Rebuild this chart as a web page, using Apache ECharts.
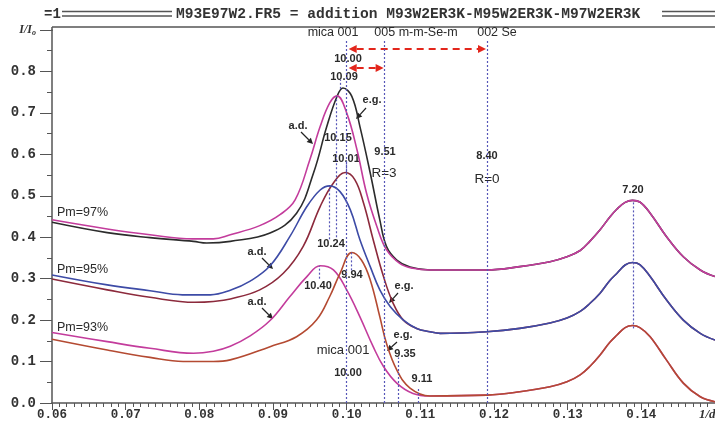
<!DOCTYPE html>
<html><head><meta charset="utf-8">
<script src="https://cdn.jsdelivr.net/npm/echarts@6/dist/echarts.min.js"></script>
<style>html,body{margin:0;padding:0;background:#fff}#c{width:715px;height:424px}</style>
</head><body><div id="c"></div><script>
// x = 1/d (Å^-1), y = I/I0
const xTickValues = [0.06,0.07,0.08,0.09,0.10,0.11,0.12,0.13,0.14];
const yTickValues = [0.0,0.1,0.2,0.3,0.4,0.5,0.6,0.7,0.8];

// Pm = 97 %
const ad97 = [[0.0600,0.442],[0.0675,0.420],[0.0733,0.406],[0.0791,0.396],[0.0819,0.396],[0.0842,0.406],[0.0882,0.428],[0.0910,0.455],[0.0930,0.490],[0.0950,0.587],[0.0964,0.667],[0.0977,0.724],[0.0987,0.741],[0.1000,0.700],[0.1014,0.611],[0.1027,0.506],[0.1041,0.426],[0.1054,0.370],[0.1072,0.337],[0.1090,0.325],[0.1113,0.321]];
const eg97 = [[0.0600,0.436],[0.0675,0.411],[0.0733,0.399],[0.0792,0.390],[0.0810,0.386],[0.0842,0.390],[0.0896,0.410],[0.0932,0.458],[0.0955,0.555],[0.0973,0.667],[0.0987,0.740],[0.0995,0.760],[0.1007,0.740],[0.1018,0.667],[0.1032,0.555],[0.1045,0.442],[0.1054,0.378],[0.1068,0.345],[0.1086,0.328],[0.1113,0.321]];
const tail97 = [[0.1190,0.321],[0.1235,0.329],[0.1276,0.341],[0.1299,0.353],[0.1317,0.368],[0.1330,0.390],[0.1344,0.418],[0.1357,0.448],[0.1367,0.468],[0.1378,0.484],[0.1388,0.489],[0.1398,0.485],[0.1412,0.458],[0.1434,0.402],[0.1457,0.353],[0.1480,0.321],[0.1500,0.305]];

// Pm = 95 %
const ad95 = [[0.0600,0.309],[0.0675,0.285],[0.0733,0.271],[0.0777,0.261],[0.0815,0.261],[0.0842,0.272],[0.0869,0.294],[0.0896,0.331],[0.0923,0.402],[0.0946,0.474],[0.0964,0.514],[0.0977,0.524],[0.0991,0.510],[0.1005,0.466],[0.1018,0.394],[0.1032,0.329],[0.1045,0.273],[0.1059,0.233],[0.1077,0.200],[0.1095,0.180],[0.1113,0.172],[0.1127,0.168]];
const eg95 = [[0.0600,0.299],[0.0675,0.273],[0.0733,0.255],[0.0794,0.243],[0.0819,0.245],[0.0842,0.251],[0.0882,0.273],[0.0914,0.313],[0.0941,0.378],[0.0964,0.474],[0.0982,0.531],[0.0998,0.556],[0.1011,0.539],[0.1023,0.482],[0.1036,0.394],[0.1050,0.305],[0.1063,0.241],[0.1077,0.200],[0.1095,0.180],[0.1113,0.172],[0.1127,0.168]];
const tail95 = [[0.1190,0.172],[0.1235,0.180],[0.1276,0.193],[0.1299,0.205],[0.1317,0.221],[0.1330,0.240],[0.1344,0.265],[0.1357,0.295],[0.1367,0.313],[0.1378,0.333],[0.1388,0.339],[0.1398,0.334],[0.1412,0.305],[0.1434,0.249],[0.1457,0.200],[0.1480,0.168],[0.1500,0.152]];

// Pm = 93 %
const ad93 = [[0.0600,0.170],[0.0675,0.148],[0.0733,0.132],[0.0792,0.120],[0.0819,0.125],[0.0842,0.137],[0.0869,0.162],[0.0896,0.199],[0.0923,0.257],[0.0946,0.305],[0.0964,0.331],[0.0982,0.321],[0.1000,0.273],[0.1018,0.208],[0.1036,0.136],[0.1050,0.088],[0.1068,0.048],[0.1090,0.023],[0.1113,0.017]];
const eg93 = [[0.0600,0.154],[0.0675,0.128],[0.0733,0.110],[0.0778,0.100],[0.0819,0.100],[0.0842,0.104],[0.0896,0.136],[0.0932,0.160],[0.0959,0.200],[0.0977,0.257],[0.0991,0.313],[0.1007,0.363],[0.1020,0.345],[0.1032,0.297],[0.1045,0.208],[0.1054,0.144],[0.1068,0.080],[0.1086,0.036],[0.1113,0.017]];
const tail93 = [[0.1190,0.019],[0.1235,0.027],[0.1276,0.039],[0.1299,0.051],[0.1317,0.068],[0.1330,0.088],[0.1344,0.116],[0.1357,0.146],[0.1367,0.164],[0.1378,0.182],[0.1388,0.187],[0.1398,0.182],[0.1412,0.160],[0.1434,0.104],[0.1457,0.048],[0.1480,0.015],[0.1500,0.003]];

// reflection positions (1/d) and the extent of their dotted markers
const refLines = [
  [0.1000, 0.000, 0.877],   // mica 001, 10.00
  [0.10515, 0.000, 0.877],  // 9.51
  [0.11905, 0.000, 0.877],  // 8.40
  [0.10695, 0.000, 0.110],  // 9.35
  [0.10977, 0.000, 0.036],  // 9.11
  [0.13889, 0.180, 0.489],  // 7.20
  [0.09911, 0.758, 0.780],  // 10.09
  [0.09865, 0.400, 0.741],  // 10.15
  [0.09766, 0.395, 0.524],  // 10.24
  [0.09625, 0.300, 0.331],  // 10.40
  [0.10060, 0.320, 0.363],  // 9.94
  [0.09990, 0.556, 0.580]   // 10.01
];

const C = {mag:'#c33c9c', blk:'#2c2c2c', blue:'#3d4ba6', dred:'#8c2a3c', rbr:'#b44a32'};
const chart = echarts.init(document.getElementById('c'));

function ser(name, data, color, z) {
  return {name, type:'line', data, smooth:0.4, showSymbol:false, symbol:'none', z,
    lineStyle:{color, width:1.6}, animation:false, silent:true};
}

const SANS = '"Liberation Sans", Arial, sans-serif';
const MONO = '"Liberation Mono", "DejaVu Sans Mono", monospace';
const TXT = '#2a2a2a';

function txt(s, x, y, size, bold, align) {
  return {type:'text', x, y, silent:true, style:{text:s, fill:TXT, font:(bold?'bold ':'')+size+'px '+SANS,
    textAlign:align||'center', textVerticalAlign:'middle'}};
}
function arrow(x1,y1,x2,y2,color,width,dash,both,h,w){
  const els=[]; const dx=x2-x1, dy=y2-y1, L=Math.hypot(dx,dy), ux=dx/L, uy=dy/L, nx=-uy, ny=ux;
  const bx=x2-ux*h, by=y2-uy*h; const sx = both? x1+ux*h : x1, sy = both? y1+uy*h : y1;
  els.push({type:'line', silent:true, shape:{x1:sx,y1:sy,x2:bx,y2:by}, style:{stroke:color,lineWidth:width,lineDash:dash||null}});
  els.push({type:'polygon', silent:true, shape:{points:[[x2,y2],[bx+nx*w,by+ny*w],[bx-nx*w,by-ny*w]]}, style:{fill:color}});
  if(both){ els.push({type:'polygon', silent:true, shape:{points:[[x1,y1],[sx+nx*w,sy+ny*w],[sx-nx*w,sy-ny*w]]}, style:{fill:color}}); }
  return els;
}

const option = {
  backgroundColor:'#fff',
  animation:false,
  grid:{left:52, right:0, top:30, bottom:21, containLabel:false},
  xAxis:{type:'value', min:0.06, max:0.15, interval:0.01,
    axisLine:{show:true, onZero:false, lineStyle:{color:'#555', width:1.5}},
    axisTick:{show:true, inside:false, length:7, lineStyle:{color:'#555', width:1}},
    minorTick:{show:true, splitNumber:10, length:4, lineStyle:{color:'#555', width:1}},
    splitLine:{show:false}, minorSplitLine:{show:false},
    axisLabel:{margin:5, color:'#333', fontFamily:MONO, fontWeight:'bold', fontSize:12.5, showMaxLabel:false,
      formatter:v=> (Math.abs(v-0.15)<1e-6)?'':v.toFixed(2)}},
  yAxis:{type:'value', min:0, max:0.9, interval:0.1,
    axisLine:{show:true, onZero:false, lineStyle:{color:'#555', width:1.5}},
    axisTick:{show:true, inside:false, length:12, lineStyle:{color:'#555', width:1}},
    minorTick:{show:true, splitNumber:2, length:5, lineStyle:{color:'#555', width:1}},
    splitLine:{show:false}, minorSplitLine:{show:false},
    axisLabel:{margin:16, color:'#333', fontFamily:MONO, fontWeight:'bold', fontSize:14,
      formatter:v=> (Math.abs(v-0.9)<1e-6)?'{i|I/I}{s|o}':v.toFixed(1),
      rich:{i:{fontFamily:'"Liberation Serif", serif', fontStyle:'italic', fontWeight:'bold', fontSize:12, color:'#333'},
            s:{fontFamily:'"Liberation Serif", serif', fontStyle:'italic', fontWeight:'bold', fontSize:8, color:'#333', padding:[6,0,0,0]}}}},
  series:[
    ser('eg97', eg97.concat(tail97), C.blk, 2),
    ser('ad97', ad97.concat(tail97), C.mag, 3),
    ser('eg95', eg95.concat(tail95), C.dred, 2),
    ser('ad95', ad95.concat(tail95), C.blue, 3),
    ser('ad93', ad93.concat(tail93), C.mag, 2),
    ser('eg93', eg93.concat(tail93), C.rbr, 3),
    {type:'line', data:[], silent:true, z:1,
      markLine:{silent:true, symbol:['none','none'], animation:false, label:{show:false},
        lineStyle:{type:[2,2], color:'#5656b8', width:1.2},
        data: refLines.map(r=>[{coord:[r[0],r[1]]},{coord:[r[0],r[2]]}])}}
  ]
};
chart.setOption(option);

const P = (x,y)=>chart.convertToPixel({gridIndex:0},[x,y]);
const pA = P(0.1,0), pB = P(0.11905,0), pC = P(0.10515,0);
const g = [];
// title bar
g.push({type:'text', x:44, y:14, silent:true, style:{text:'=1', fill:'#333', font:'bold 14px '+MONO, textAlign:'left', textVerticalAlign:'middle'}});
[[62,172],[662,715]].forEach(s=>{[11.5,16].forEach(yy=>g.push({type:'line',silent:true,shape:{x1:s[0],y1:yy,x2:s[1],y2:yy},style:{stroke:'#555',lineWidth:1.6}}));});
g.push({type:'text', x:176, y:14, silent:true, style:{text:'M93E97W2.FR5 = addition M93W2ER3K-M95W2ER3K-M97W2ER3K', fill:'#333', font:'bold 14.6px '+MONO, textAlign:'left', textVerticalAlign:'middle'}});
// top border and y-axis extension
g.push({type:'line',silent:true,shape:{x1:52,y1:27,x2:715,y2:27},style:{stroke:'#555',lineWidth:1.5}});
g.push({type:'line',silent:true,shape:{x1:52,y1:27,x2:52,y2:31},style:{stroke:'#555',lineWidth:1.5}});
// x axis name (cut off by the canvas edge)
g.push({type:'text', x:699, y:415, silent:true, style:{text:'1/d', fill:'#333', font:'italic bold 13px "Liberation Serif", serif', textAlign:'left', textVerticalAlign:'middle'}});
// red dashed double arrows
arrow(pA[0]+2,49,pB[0]-1,49,'#e3261c',2,[7,5],true,8,4).forEach(e=>g.push(e));
arrow(pA[0]+2,68,pC[0]-1,68,'#e3261c',2,[7,5],true,8,4).forEach(e=>g.push(e));
// black pointer arrows
[[366,108,356,119],[301,132,313,144],[262,258,273,269],[398,293,389,303],[262,308,273,319],[397,342,387,351]]
  .forEach(a=>arrow(a[0],a[1],a[2],a[3],'#222',1.2,null,false,6,3).forEach(e=>g.push(e)));
// annotations
[
  ['mica 001',333,33,12.5,false],['005 m-m-Se-m',416,33,12.5,false],['002 Se',497,33,12.5,false],
  ['10.00',348,59,11,true],['10.09',344,77,11,true],['e.g.',372,100,11,true],['a.d.',298,126,11,true],
  ['10.15',338,138,11,true],['9.51',385,152,11,true],['R=3',384,173,13.5,false],['8.40',487,156,11,true],
  ['R=0',487,179,13.5,false],['10.01',346,159,11,true],['10.24',331,244,11,true],['a.d.',257,252,11,true],
  ['10.40',318,286,11,true],['9.94',352,275,11,true],['e.g.',404,286,11,true],['a.d.',257,302,11,true],
  ['e.g.',403,335,11,true],['9.35',405,354,11,true],['mica 001',343,350,13,false],['10.00',348,373,11,true],
  ['9.11',422,379,11,true],['7.20',633,190,11,true]
].forEach(t=>g.push(txt(t[0],t[1],t[2],t[3],t[4])));
[['Pm=97%',57,213],['Pm=95%',57,270],['Pm=93%',57,328]].forEach(t=>g.push(txt(t[0],t[1],t[2],12.5,false,'left')));
chart.setOption({graphic:{elements:g}});
</script></body></html>
